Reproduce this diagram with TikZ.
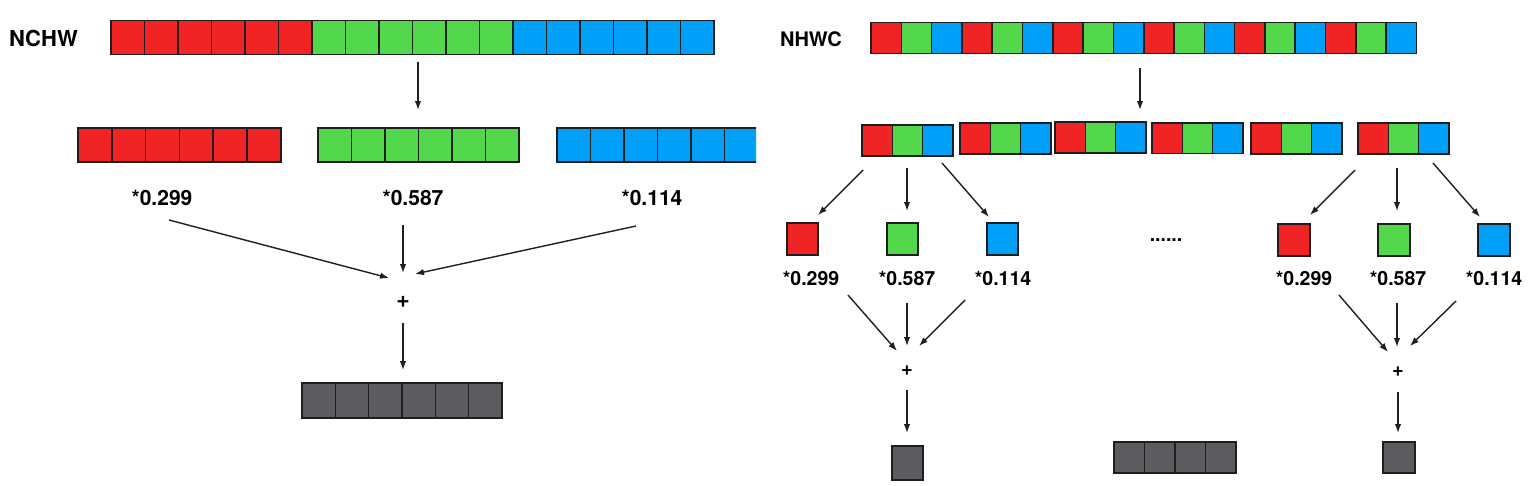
\documentclass[tikz,border=0pt]{standalone}
\usepackage{fontspec}
\setmainfont{TeX Gyre Heros}
\usetikzlibrary{arrows.meta}
\definecolor{cR}{RGB}{240,36,36}
\definecolor{cG}{RGB}{82,216,74}
\definecolor{cBl}{RGB}{0,160,248}
\definecolor{cK}{RGB}{92,92,96}
\definecolor{cLine}{RGB}{30,30,30}
\tikzset{
  cell/.style={draw=cLine, line width=1.6pt, inner sep=0pt, outer sep=0pt, anchor=north west},
  arr/.style={-{Latex[length=9pt,width=6.5pt]}, line width=1.4pt, draw=black!88},
  titleL/.style={font=\bfseries\fontsize{22}{22}\selectfont, inner sep=0pt},
  titleR/.style={font=\bfseries\fontsize{20}{20}\selectfont, inner sep=0pt},
  lblL/.style={font=\bfseries\fontsize{21}{21}\selectfont, inner sep=0pt},
  lblR/.style={font=\bfseries\fontsize{19.5}{19.5}\selectfont, inner sep=0pt},
  plusL/.style={font=\bfseries\fontsize{23}{23}\selectfont, inner sep=0pt},
  plusR/.style={font=\bfseries\fontsize{20}{20}\selectfont, inner sep=0pt},
}
% name, x0, ytop, cell width, cell height, colour list
\newcommand\cellrow[6]{%
  \foreach \cc [count=\ii from 0] in {#6} {
    \node[cell, fill=\cc, minimum width=#4pt, minimum height=#5pt] (#1-\ii) at ({#2+\ii*#4}, #3) {};
  }}
\begin{document}
\begin{tikzpicture}[x=1pt,y=-1pt]
\fill[white] (0,0) rectangle (1533,485);
\useasboundingbox (0,0) rectangle (1533,485);

% ================= LEFT: NCHW =================
\node[titleL] (nchw) at (43.5,38) {NCHW};
\cellrow{top}{111}{20.5}{33.5}{34}{cR,cR,cR,cR,cR,cR,cG,cG,cG,cG,cG,cG,cBl,cBl,cBl,cBl,cBl,cBl}
\coordinate (t1) at (418,62);
\coordinate (t2) at (418,110);
\draw[arr] (t1) -- (t2);

\cellrow{rr}{78}{128}{33.8}{34}{cR,cR,cR,cR,cR,cR}
\cellrow{gg}{318}{128}{33.5}{34}{cG,cG,cG,cG,cG,cG}
\begin{scope}
  \clip (0,0) rectangle (756,485);
  \cellrow{bb}{557}{128}{33.5}{34}{cBl,cBl,cBl,cBl,cBl,cBl}
\end{scope}

\node[lblL] (l299) at (162,198) {*0.299};
\node[lblL] (l587) at (413,198) {*0.587};
\node[lblL] (l114) at (652,198) {*0.114};

\coordinate (la1) at (169,220);  \coordinate (la2) at (389,278);
\coordinate (lb1) at (403,225);  \coordinate (lb2) at (403,273);
\coordinate (lc1) at (636,226);  \coordinate (lc2) at (415,274);
\draw[arr] (la1) -- (la2);
\draw[arr] (lb1) -- (lb2);
\draw[arr] (lc1) -- (lc2);

\node[plusL] (lplus) at (403,302) {+};
\coordinate (ld1) at (403,323); \coordinate (ld2) at (403,370);
\draw[arr] (ld1) -- (ld2);

\cellrow{lgray}{302}{383}{33.33}{35}{cK,cK,cK,cK,cK,cK}

% ================= RIGHT: NHWC =================
\node[titleR] (nhwc) at (811,39) {NHWC};
\cellrow{rtop}{871}{22.5}{30.3}{31}{cR,cG,cBl,cR,cG,cBl,cR,cG,cBl,cR,cG,cBl,cR,cG,cBl,cR,cG,cBl}
\coordinate (r1) at (1140,68);
\coordinate (r2) at (1140,110);
\draw[arr] (r1) -- (r2);

\cellrow{g1}{862}{125}{30.3}{31}{cR,cG,cBl}
\cellrow{g2}{960}{123}{30.3}{31}{cR,cG,cBl}
\cellrow{g3}{1055}{122}{30.3}{31}{cR,cG,cBl}
\cellrow{g4}{1152}{123}{30.3}{30.5}{cR,cG,cBl}
\cellrow{g5}{1251}{123}{30.3}{31}{cR,cG,cBl}
\cellrow{g6}{1358}{123}{30.3}{31}{cR,cG,cBl}

% --- first pixel group ---
\coordinate (pa1) at (863,170); \coordinate (pa2) at (818,215);
\coordinate (pb1) at (907,168); \coordinate (pb2) at (907,211);
\coordinate (pc1) at (942,163); \coordinate (pc2) at (989,217);
\draw[arr] (pa1) -- (pa2);
\draw[arr] (pb1) -- (pb2);
\draw[arr] (pc1) -- (pc2);

\node[cell, fill=cR, minimum width=31pt, minimum height=32pt] (sr1) at (787,223) {};
\node[cell, fill=cG, minimum width=31pt, minimum height=32pt] (sg1) at (887,223) {};
\node[cell, fill=cBl, minimum width=31pt, minimum height=32pt] (sb1) at (987,223) {};

\node[lblR] (m299a) at (811,278) {*0.299};
\node[lblR] (m587a) at (907,278) {*0.587};
\node[lblR] (m114a) at (1003,278) {*0.114};

\coordinate (qa1) at (848,295); \coordinate (qa2) at (897,351);
\coordinate (qb1) at (907,303); \coordinate (qb2) at (907,346);
\coordinate (qc1) at (965,300); \coordinate (qc2) at (919,346);
\draw[arr] (qa1) -- (qa2);
\draw[arr] (qb1) -- (qb2);
\draw[arr] (qc1) -- (qc2);

\node[plusR] (rplus1) at (907,371) {+};
\coordinate (qd1) at (907,390); \coordinate (qd2) at (907,433);
\draw[arr] (qd1) -- (qd2);
\node[cell, fill=cK, minimum width=31pt, minimum height=34pt] (out1) at (892,446) {};

% --- dots and middle output ---
\node[lblR] (dots) at (1166,240) {......};
\cellrow{mgray}{1114}{442}{30.5}{31}{cK,cK,cK,cK}

% --- last pixel group ---
\coordinate (ua1) at (1355,170); \coordinate (ua2) at (1310,215);
\coordinate (ub1) at (1397,168); \coordinate (ub2) at (1397,211);
\coordinate (uc1) at (1433,163); \coordinate (uc2) at (1480,217);
\draw[arr] (ua1) -- (ua2);
\draw[arr] (ub1) -- (ub2);
\draw[arr] (uc1) -- (uc2);

\node[cell, fill=cR, minimum width=32pt, minimum height=32pt] (sr2) at (1278,224) {};
\node[cell, fill=cG, minimum width=32pt, minimum height=32pt] (sg2) at (1378,224) {};
\node[cell, fill=cBl, minimum width=32pt, minimum height=32pt] (sb2) at (1478,224) {};

\node[lblR] (m299b) at (1304,278) {*0.299};
\node[lblR] (m587b) at (1398,278) {*0.587};
\node[lblR] (m114b) at (1494,278) {*0.114};

\coordinate (va1) at (1339,295); \coordinate (va2) at (1388,352);
\coordinate (vb1) at (1397,303); \coordinate (vb2) at (1397,347);
\coordinate (vc1) at (1456,301); \coordinate (vc2) at (1410,346);
\draw[arr] (va1) -- (va2);
\draw[arr] (vb1) -- (vb2);
\draw[arr] (vc1) -- (vc2);

\node[plusR] (rplus2) at (1398,372) {+};
\coordinate (vd1) at (1398,392); \coordinate (vd2) at (1398,433);
\draw[arr] (vd1) -- (vd2);
\node[cell, fill=cK, minimum width=32pt, minimum height=31pt] (out2) at (1383,442) {};
\end{tikzpicture}
\end{document}
